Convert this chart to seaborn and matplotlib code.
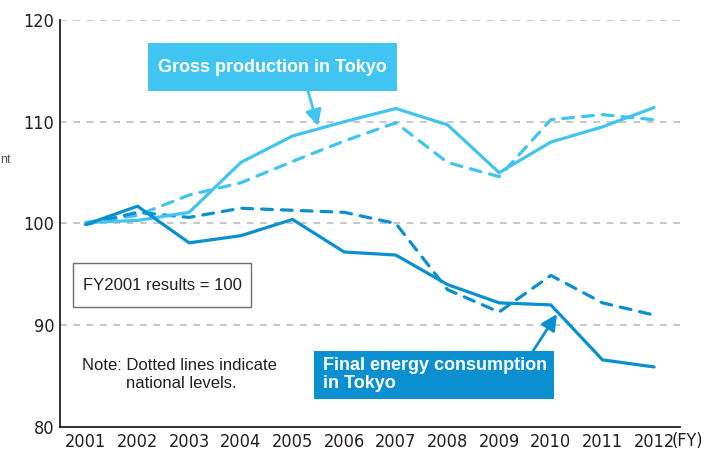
import numpy as np
import pandas as pd
import matplotlib
matplotlib.use('Agg')
import matplotlib.pyplot as plt
from matplotlib.patches import Rectangle
from matplotlib import font_manager
import seaborn as sns

# ── data (index, FY2001 = 100) ──
years = list(range(2001, 2013))
gross_tokyo    = [100.1, 100.3, 101.1, 106.0, 108.6, 110.0, 111.3, 109.7, 105.0, 108.0, 109.5, 111.4]
gross_national = [100.1, 100.8, 102.8, 104.0, 106.1, 108.1, 109.9, 106.0, 104.6, 110.2, 110.7, 110.2]
energy_tokyo    = [99.9, 101.7, 98.1, 98.8, 100.4, 97.2, 96.9, 94.0, 92.2, 92.0, 86.6, 85.9]
energy_national = [99.9, 101.1, 100.6, 101.5, 101.3, 101.1, 100.0, 93.5, 91.3, 94.9, 92.2, 91.0]
y_ticks = [80, 90, 100, 110, 120]

light = '#40C4F1'
dark = '#0A8FD1'
txt = '#231F20'

sns.set_style('white')
plt.rcParams['font.family'] = ['Liberation Sans', 'DejaVu Sans']

W, H = 721, 450
fig = plt.figure(figsize=(W / 100, H / 100), dpi=100)
ax = fig.add_axes([60 / W, 1 - 427 / H, 620 / W, 407 / H])


def px(x, y):
    # pixel position (from top-left) -> figure fraction
    return x / W, 1 - y / H


# grid
for yv in y_ticks[1:]:
    ax.axhline(yv, color='#BDBDBD', lw=1.2, ls=(0, (4, 4)), zorder=0)

series = [
    (gross_national, light, (0, (3.4, 2.8))),
    (energy_national, dark, (0, (3.4, 2.8))),
    (gross_tokyo, light, '-'),
    (energy_tokyo, dark, '-'),
]
for vals, col, ls in series:
    sns.lineplot(x=years, y=vals, ax=ax, color=col, lw=2.3, linestyle=ls,
                 dash_capstyle='round', solid_capstyle='round',
                 solid_joinstyle='round', dash_joinstyle='round')

# condensed face for the tick labels
cond = font_manager.FontProperties(family='DejaVu Sans', stretch='condensed', size=13)

ax.set_xlim(2000.5, 2012.5)
ax.set_ylim(80, 120)
ax.set_xticks(years + [2012.5])
ax.set_xticklabels([str(y) for y in years] + [''])
ax.set_yticks(y_ticks)
ax.set_yticklabels([str(v) for v in y_ticks])
for lab in ax.get_xticklabels() + ax.get_yticklabels():
    lab.set_fontproperties(cond)
    lab.set_color(txt)
ax.tick_params(direction='in', length=6, width=1.2, color=txt, pad=4)
for s in ['top', 'right']:
    ax.spines[s].set_visible(False)
for s in ['left', 'bottom']:
    ax.spines[s].set_color(txt)
    ax.spines[s].set_linewidth(1.3)

fig.text(*px(672, 441), '(FY)', ha='left', va='center', fontproperties=cond, color=txt)

# label boxes
fig.patches.append(Rectangle(px(148, 91), 249 / W, 48 / H, transform=fig.transFigure,
                             fc=light, ec='none', zorder=3))
fig.text(*px(272, 67), 'Gross production in Tokyo', ha='center', va='center',
         fontsize=13, fontweight='bold', color='white', zorder=4)
fig.patches.append(Rectangle(px(314, 399), 240 / W, 48 / H, transform=fig.transFigure,
                             fc=dark, ec='none', zorder=3))
fig.text(*px(323, 366), 'Final energy consumption', ha='left', va='center',
         fontsize=13, fontweight='bold', color='white', zorder=4)
fig.text(*px(323, 383), 'in Tokyo', ha='left', va='center',
         fontsize=13, fontweight='bold', color='white', zorder=4)

fig.patches.append(Rectangle(px(73, 307), 178 / W, 44 / H, transform=fig.transFigure,
                             fc='white', ec='#6D6E70', lw=1, zorder=3))
fig.text(*px(162, 285), 'FY2001 results = 100', ha='center', va='center',
         fontsize=12, color=txt, zorder=4)

fig.text(*px(82, 366), 'Note: Dotted lines indicate', ha='left', va='center',
         fontsize=12, color=txt)
fig.text(*px(126, 383), 'national levels.', ha='left', va='center',
         fontsize=12, color=txt)

# arrows
ax.annotate('', xy=px(318, 126), xytext=px(308, 91), xycoords='figure fraction',
            arrowprops=dict(arrowstyle='-|>', color=light, lw=2, mutation_scale=24,
                            shrinkA=0, shrinkB=0))
ax.annotate('', xy=px(557, 314), xytext=px(533, 351), xycoords='figure fraction',
            arrowprops=dict(arrowstyle='-|>', color=dark, lw=2, mutation_scale=24,
                            shrinkA=0, shrinkB=0))

fig.text(*px(0, 160), 'nt', fontsize=9, color='#555555', ha='left', va='center')

plt.savefig('out.png', dpi=100)
plt.close()
